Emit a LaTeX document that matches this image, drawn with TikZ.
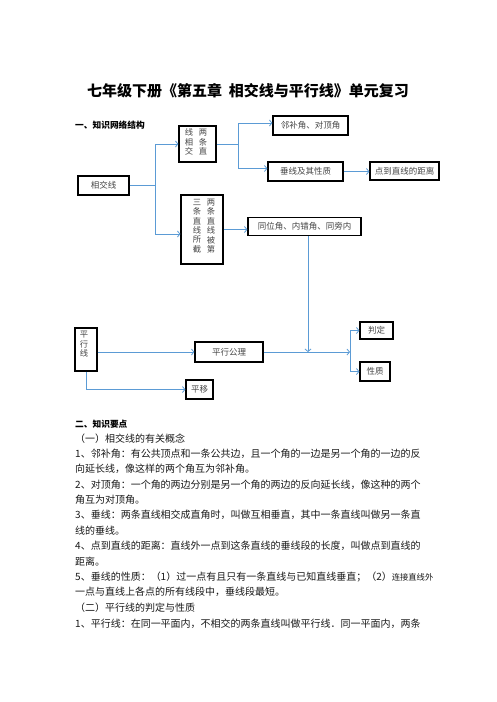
\documentclass[tikz,border=0pt]{standalone}
\usepackage{fontspec}
\setmainfont{Noto Sans CJK SC}
\usetikzlibrary{arrows.meta,calc}
\definecolor{ln}{RGB}{91,155,213}
\definecolor{bt}{RGB}{70,70,70}
\begin{document}
\begin{tikzpicture}[x=1pt,y=-1pt,
  bx/.style={draw=black,line width=1.1pt,inner sep=0pt,font=\fontsize{8.5}{9}\selectfont,text=bt},
  vt/.style={inner sep=0pt,align=center,font=\fontsize{8.3}{9.3}\selectfont,text=bt},
  cn/.style={draw=ln,line width=0.8pt},
  ar/.style={cn,-{Straight Barb[length=2.5pt,width=6pt]}},
  body/.style={anchor=west,inner sep=0pt,font=\fontsize{10}{12}\selectfont,text=black!90},
  hd/.style={anchor=west,inner sep=0pt,font=\fontsize{8.7}{10}\selectfont\bfseries}]
\useasboundingbox (0,0) rectangle (496,702);
\fill[white] (0,0) rectangle (496,702);

% title
\node[inner sep=0pt,font=\fontsize{15}{17}\selectfont\bfseries] (title) at (248,91) {七年级下册《第五章\hspace{7pt}相交线与平行线》单元复习};
\node[hd] (h1) at (75,125) {一、知识网络结构};

% boxes
\node[bx,minimum width=51,minimum height=19] (xjx) at (103.5,185.5) {相交线};
\node[bx,minimum width=37,minimum height=36] (b1) at (197.5,144) {};
\node[vt] (b1r) at (203,142) {两\\条\\直};
\node[vt] (b1l) at (189,142) {线\\相\\交};
\node[bx,minimum width=42,minimum height=69] (b3) at (202,229.5) {};
\node[vt,font=\fontsize{8.3}{9.45}\selectfont] (b3r) at (211,226) {两\\条\\直\\线\\被\\第};
\node[vt,font=\fontsize{8.3}{9.45}\selectfont] (b3l) at (197,226) {三\\条\\直\\线\\所\\截};
\node[bx,minimum width=75,minimum height=19] (lbj) at (310.5,125.5) {邻补角、对顶角};
\node[bx,minimum width=75,minimum height=19] (cx) at (305.5,171.5) {垂线及其性质};
\node[bx,minimum width=69,minimum height=18] (djl) at (404.5,171) {点到直线的距离};
\node[bx,minimum width=113,minimum height=18] (twj) at (304.5,226.5) {同位角、内错角、同旁内};
\node[bx,minimum width=22,minimum height=43] (pxx) at (86,349.5) {};
\node[vt,font=\fontsize{8.3}{9.5}\selectfont] (pxxt) at (84,344.5) {平\\行\\线};
\node[bx,minimum width=68,minimum height=20] (pxgl) at (229,352) {平行公理};
\node[bx,minimum width=33,minimum height=17] (pd) at (376.5,330.5) {判定};
\node[bx,minimum width=30,minimum height=19] (xz) at (375,371.5) {性质};
\node[bx,minimum width=27,minimum height=19] (py) at (199.5,389.5) {平移};

% connectors
\coordinate (j1) at (155,185.5);
\draw[cn] (xjx.east) -- (j1);
\draw[ar] (j1) |- (b1.west);
\draw[ar] (j1) |- ($(b3.west)+(0,4.5)$);
\coordinate (j2) at (238,144);
\draw[cn] (b1.east) -- (j2);
\draw[ar] (j2) |- ($(lbj.west)+(0,-2.5)$);
\draw[ar] (j2) |- ($(cx.west)+(0,-3)$);
\draw[ar] (cx.east) -- (cx.east -| djl.west);
\draw[ar] (b3.east) -- (b3.east -| twj.west);
\draw[ar] (pxgl.west -| pxx.east) -- (pxgl.west);
\coordinate (j3) at (350,352);
\draw[ar] (pxgl.east) -- (j3);
\coordinate (tws) at ($(twj.south)+(3.5,0)$);
\draw[ar] (tws) -- (tws |- j3);
\draw[ar] (j3) |- (pd.west);
\draw[ar] (j3) |- (xz.west);
\coordinate (j4) at (86,389.5);
\draw[cn] (pxx.south) -- (j4);
\draw[ar] (j4) -- (py.west);

% text section
\node[hd] (h2) at (75,424) {二、知识要点};
\node[body] (t0) at (75,438.5) {（一）相交线的有关概念};
\node[body] (t1) at (75,454) {1、邻补角：有公共顶点和一条公共边，且一个角的一边是另一个角的一边的反};
\node[body] (t2) at (75,469) {向延长线，像这样的两个角互为邻补角。};
\node[body] (t3) at (75,484.5) {2、对顶角：一个角的两边分别是另一个角的两边的反向延长线，像这种的两个};
\node[body] (t4) at (75,500) {角互为对顶角。};
\node[body] (t5) at (75,515) {3、垂线：两条直线相交成直角时，叫做互相垂直，其中一条直线叫做另一条直};
\node[body] (t6) at (75,530.5) {线的垂线。};
\node[body] (t7) at (75,546) {4、点到直线的距离：直线外一点到这条直线的垂线段的长度，叫做点到直线的};
\node[body] (t8) at (75,561.5) {距离。};
\node[body] (t9) at (75,577) {5、垂线的性质：（1）过一点有且只有一条直线与已知直线垂直；（2）{\fontsize{8.3}{10}\selectfont 连接直线外}};
\node[body] (t10) at (75,592) {一点与直线上各点的所有线段中，垂线段最短。};
\node[body] (t11) at (75,607.5) {（二）平行线的判定与性质};
\node[body] (t12) at (75,623.5) {1、平行线：在同一平面内，不相交的两条直线叫做平行线．同一平面内，两条};
\end{tikzpicture}
\end{document}
